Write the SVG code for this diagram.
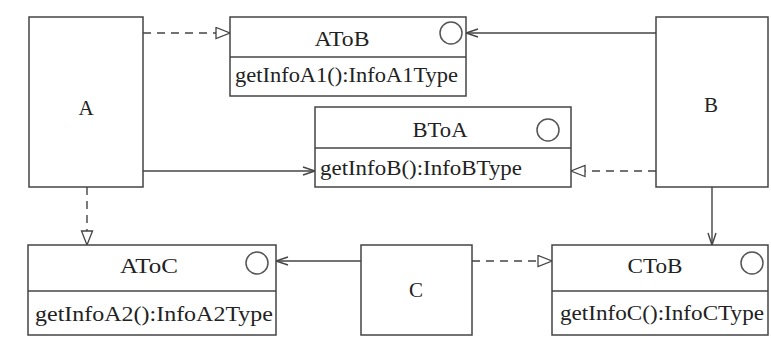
<svg xmlns="http://www.w3.org/2000/svg" width="771" height="338" viewBox="0 0 771 338">
<defs>
<style>
.box{fill:#fff;stroke:#444;stroke-width:1.5}
.div{stroke:#444;stroke-width:1.5}
.ic{fill:none;stroke:#555;stroke-width:1.5}
.t{font-family:"Liberation Serif","Times New Roman",serif;fill:#222}
.title{font-size:20px;text-anchor:middle}
.m{font-size:20px}
.lbl{font-size:21px;text-anchor:middle}
.c{fill:none;stroke:#444;stroke-width:1.4}
.d{stroke-dasharray:8 6}
</style>
<marker id="tri" markerUnits="userSpaceOnUse" markerWidth="17" markerHeight="14" refX="15" refY="6.5" orient="auto">
<path d="M1,1 L15,6.5 L1,12 z" fill="#fff" stroke="#444" stroke-width="1.3"/>
</marker>
<marker id="arr" markerUnits="userSpaceOnUse" markerWidth="16" markerHeight="12" refX="13" refY="5" orient="auto">
<path d="M1,1 L13,5 L1,9" fill="none" stroke="#444" stroke-width="1.4"/>
</marker>
</defs>
<rect width="771" height="338" fill="#fff"/>
<g id="connectors">
<path class="c d" d="M143,33 L230,33" marker-end="url(#tri)"/>
<path class="c" d="M656,33 L466,33" marker-end="url(#arr)"/>
<path class="c" d="M143,171 L315,171" marker-end="url(#arr)"/>
<path class="c d" d="M656,171 L571,171" marker-end="url(#tri)"/>
<path class="c d" d="M87,187 L87,245" marker-end="url(#tri)"/>
<path class="c" d="M712,187 L712,245" marker-end="url(#arr)"/>
<path class="c" d="M361,261 L276,261" marker-end="url(#arr)"/>
<path class="c d" d="M472,261 L552,261" marker-end="url(#tri)"/>
</g>
<g id="A">
<rect class="box" x="29" y="17" width="114" height="170"/>
<text class="t lbl" x="86" y="115">A</text>
</g>
<g id="B">
<rect class="box" x="656" y="17" width="112" height="170"/>
<text class="t lbl" x="711" y="112">B</text>
</g>
<g id="C">
<rect class="box" x="361" y="245" width="111" height="90"/>
<text class="t lbl" x="416" y="297">C</text>
</g>
<g id="AToB">
<rect class="box" x="230" y="17" width="236" height="79"/>
<line class="div" x1="230" y1="57" x2="466" y2="57"/>
<circle class="ic" cx="451" cy="33" r="11"/>
<text class="t title" x="342" y="46" textLength="55" lengthAdjust="spacingAndGlyphs">AToB</text>
<text class="t m" x="235" y="82" textLength="223" lengthAdjust="spacingAndGlyphs">getInfoA1():InfoA1Type</text>
</g>
<g id="BToA">
<rect class="box" x="315" y="107" width="256" height="80"/>
<line class="div" x1="315" y1="148" x2="571" y2="148"/>
<circle class="ic" cx="548" cy="130" r="11"/>
<text class="t title" x="440" y="137" textLength="55" lengthAdjust="spacingAndGlyphs">BToA</text>
<text class="t m" x="320" y="175" textLength="202" lengthAdjust="spacingAndGlyphs">getInfoB():InfoBType</text>
</g>
<g id="AToC">
<rect class="box" x="28" y="245" width="248" height="90"/>
<line class="div" x1="28" y1="291" x2="276" y2="291"/>
<circle class="ic" cx="257" cy="263" r="11"/>
<text class="t title" x="149" y="273" textLength="58" lengthAdjust="spacingAndGlyphs">AToC</text>
<text class="t m" x="35" y="321" textLength="238" lengthAdjust="spacingAndGlyphs">getInfoA2():InfoA2Type</text>
</g>
<g id="CToB">
<rect class="box" x="552" y="245" width="216" height="90"/>
<line class="div" x1="552" y1="291" x2="768" y2="291"/>
<circle class="ic" cx="752" cy="263" r="11"/>
<text class="t title" x="655" y="273" textLength="55" lengthAdjust="spacingAndGlyphs">CToB</text>
<text class="t m" x="560" y="320" textLength="204" lengthAdjust="spacingAndGlyphs">getInfoC():InfoCType</text>
</g>
</svg>
